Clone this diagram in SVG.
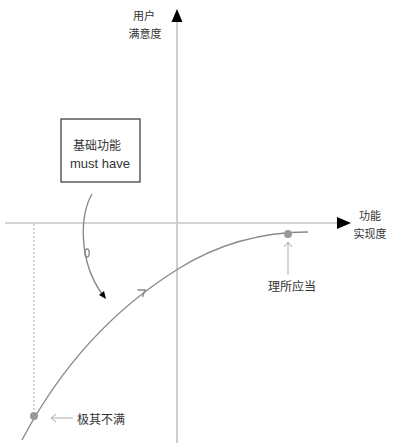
<svg xmlns="http://www.w3.org/2000/svg" width="395" height="443" viewBox="0 0 395 443">
<style>
.t{font-family:"Liberation Sans","Noto Sans CJK SC",sans-serif;fill:#333;}
.axis{stroke:#c4c4c4;stroke-width:1.6;fill:none;}
.curve{stroke:#8a8a8a;stroke-width:1.4;fill:none;}
.thin{stroke:#aaa;stroke-width:1;fill:none;}
</style>
<rect width="395" height="443" fill="#fff"/>
<g id="connectors">
  <line class="axis" x1="177" y1="20" x2="177" y2="443"/>
  <polygon points="177,9 171.5,22 182.5,22" fill="#000"/>
  <line class="axis" x1="5" y1="223" x2="338" y2="223"/>
  <polygon points="351,223 337,217 337,229" fill="#000"/>
  <line x1="34" y1="224" x2="34" y2="412" stroke="#aaa" stroke-width="1" stroke-dasharray="2,2"/>
  <path class="curve" d="M22,440 Q80,330 178,269 Q237,232 308,232"/>
  <path class="curve" d="M137.5,290 L145,290 L142.5,297"/>
  <circle cx="34" cy="416" r="4" fill="#999"/>
  <circle cx="288" cy="234" r="4" fill="#999"/>
  <path class="thin" d="M73,418 L51,418 M56,414 L51,418 L56,422"/>
  <path class="thin" d="M288,275 L288,242 M284,247 L288,242 L292,247"/>
  <path class="curve" d="M92,194 C80,215 78,260 102,294"/>
  <ellipse cx="87" cy="253" rx="2.2" ry="4" class="curve" stroke-width="1"/>
  <polygon points="106,299 99,295 104,291" fill="#000"/>
</g>
<g id="y-label">
  <text class="t" x="144" y="20" font-size="11" text-anchor="middle">用户</text>
  <text class="t" x="145" y="38" font-size="11" text-anchor="middle">满意度</text>
</g>
<g id="x-label">
  <text class="t" x="370" y="220" font-size="11" text-anchor="middle">功能</text>
  <text class="t" x="370" y="238" font-size="11" text-anchor="middle">实现度</text>
</g>
<g id="basic">
  <rect x="61" y="119" width="79" height="63" fill="#fff" stroke="#333" stroke-width="1.2"/>
  <text class="t" x="97" y="150" font-size="12" text-anchor="middle">基础功能</text>
  <text class="t" x="100" y="168" font-size="13" text-anchor="middle">must have</text>
</g>
<g id="expected">
  <text class="t" x="292" y="291" font-size="12" text-anchor="middle">理所应当</text>
</g>
<g id="dissatisfied">
  <text class="t" x="77" y="424" font-size="12">极其不满</text>
</g>
</svg>
